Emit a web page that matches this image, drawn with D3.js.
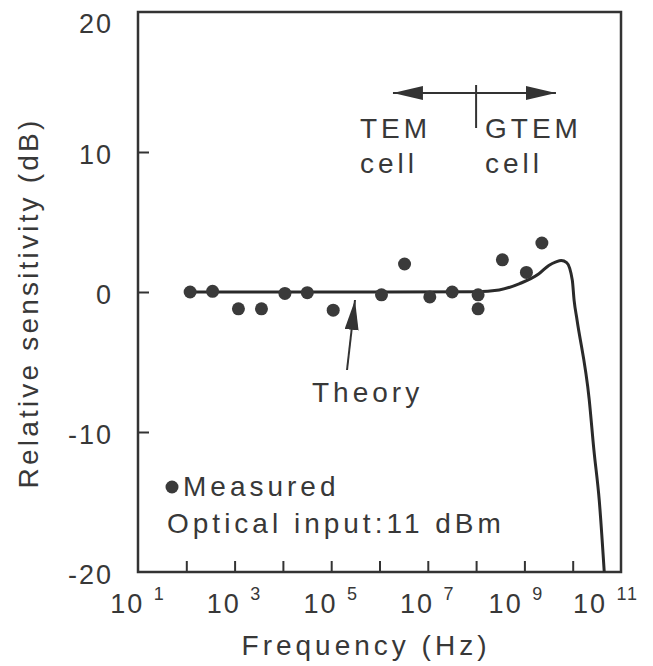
<!DOCTYPE html>
<html>
<head>
<meta charset="utf-8">
<script src="https://cdn.jsdelivr.net/npm/d3@7"></script>
<style>
  html, body { margin: 0; padding: 0; background: #fff; }
  svg text { font-family: "Liberation Sans", Arial, Helvetica, sans-serif; fill: #383838; }
</style>
</head>
<body>
<svg id="chart" width="653" height="666"></svg>
<script>
// measured points (Hz, dB)
const measuredFreq = [1.2e2, 3.5e2, 1.2e3, 3.6e3, 1.1e4, 3.2e4, 1.1e5, 1.1e6, 3.3e6, 1.1e7, 3.2e7, 1.1e8, 1.1e8, 3.5e8, 1.1e9, 2.3e9];
const measuredDb = [0, 0.05, -1.2, -1.2, -0.1, -0.05, -1.3, -0.2, 2.0, -0.35, 0, -0.2, -1.2, 2.3, 1.4, 3.5];

// theory curve (Hz, dB)
const theoryFreq = [1.2e2, 1e4, 1e6, 1e8, 3e8, 8e8, 2e9, 3.2e9, 4.5e9, 5.8e9, 7.5e9, 9.8e9, 1.07e10, 1.23e10, 2.2e10, 2.75e10, 3.55e10, 4.5e10];
const theoryDb = [0, 0, 0, 0.02, 0.15, 0.6, 1.3, 1.9, 2.15, 2.25, 2.1, 0.85, -0.6, -2.0, -7.7, -11.3, -14.9, -20];

// axis ticks
const xTickValues = [1e2, 1e3, 1e4, 1e5, 1e6, 1e7, 1e8, 1e9, 1e10];
const xLabelExps = [1, 3, 5, 7, 9, 11];
const yTickValues = [-10, 0, 10];
const yLabelValues = [20, 10, 0, -10, -20];

// annotation split between TEM and GTEM cells
const cellSplitFreq = 1e8;
const cellArrowFreq = [1.9e6, 4.5e9];

let svg = d3.select("#chart");
let ink = "#333";

let plotLeft = 138, plotRight = 621, plotTop = 12, plotBottom = 572;

let x = d3.scaleLog().domain([1e1, 1e11]).range([plotLeft, plotRight]);
let y = d3.scaleLinear().domain([-20, 20]).range([plotBottom, plotTop]);

// frame
svg.append("rect")
  .attr("x", plotLeft).attr("y", plotTop)
  .attr("width", plotRight - plotLeft).attr("height", plotBottom - plotTop)
  .attr("fill", "none").attr("stroke", ink).attr("stroke-width", 2.5);

// inward ticks
let xAxis = svg.append("g")
  .attr("transform", `translate(0,${plotBottom})`)
  .call(d3.axisBottom(x).tickValues(xTickValues).tickSize(-11).tickFormat(""));
let yAxis = svg.append("g")
  .attr("transform", `translate(${plotLeft},0)`)
  .call(d3.axisLeft(y).tickValues(yTickValues).tickSize(-11).tickFormat(""));
[xAxis, yAxis].forEach(function(g) {
  g.select(".domain").remove();
  g.selectAll("line").attr("stroke", ink).attr("stroke-width", 2);
});

// x tick labels with superscripts (the right-most ones sit a bit left, as in the original)
xLabelExps.forEach(function(e) {
  let shift = e === 11 ? -15 : (e === 9 ? -8 : 0);
  let t = svg.append("text")
    .attr("x", x(Math.pow(10, e)) + shift)
    .attr("y", 613)
    .attr("text-anchor", "middle")
    .style("font-size", "27px")
    .style("letter-spacing", "2px");
  t.append("tspan").text("10 ");
  t.append("tspan").attr("dy", -13).style("font-size", "18px").text(e);
});

// y tick labels
svg.selectAll(".ylab")
  .data(yLabelValues)
  .enter()
  .append("text")
  .attr("x", 113)
  .attr("y", d => Math.max(y(d) + 12, 33))
  .attr("text-anchor", "end")
  .style("font-size", "27px")
  .style("letter-spacing", "2px")
  .text(d => d);

// axis titles
svg.append("text")
  .attr("x", 366)
  .attr("y", 655)
  .attr("text-anchor", "middle")
  .style("font-size", "28px")
  .style("letter-spacing", "4px")
  .text("Frequency (Hz)");

svg.append("text")
  .attr("transform", "translate(38,303) rotate(-90)")
  .attr("text-anchor", "middle")
  .style("font-size", "28px")
  .style("letter-spacing", "3.2px")
  .text("Relative sensitivity (dB)");

// theory line
let line = d3.line()
  .x(d => x(d[0]))
  .y(d => y(d[1]))
  .curve(d3.curveMonotoneX);
svg.append("path")
  .datum(d3.zip(theoryFreq, theoryDb))
  .attr("d", line)
  .attr("fill", "none")
  .attr("stroke", "#2a2a2a")
  .attr("stroke-width", 3);

// measured points
svg.selectAll(".pt")
  .data(d3.zip(measuredFreq, measuredDb))
  .enter()
  .append("circle")
  .attr("cx", d => x(d[0]))
  .attr("cy", d => y(d[1]))
  .attr("r", 6.5)
  .attr("fill", "#3a3a3a");

// arrowhead marker
let defs = svg.append("defs");
defs.append("marker")
  .attr("id", "head")
  .attr("viewBox", "0 0 30 14")
  .attr("refX", 30).attr("refY", 7)
  .attr("markerWidth", 30).attr("markerHeight", 14)
  .attr("markerUnits", "userSpaceOnUse")
  .attr("orient", "auto-start-reverse")
  .append("path")
  .attr("d", "M0,0 L30,7 L0,14 Z")
  .attr("fill", "#333");

// TEM / GTEM arrows
let arrowY = 93;
svg.append("line")
  .attr("x1", x(cellArrowFreq[0])).attr("x2", x(cellArrowFreq[1]))
  .attr("y1", arrowY).attr("y2", arrowY)
  .attr("stroke", "#333").attr("stroke-width", 2)
  .attr("marker-start", "url(#head)")
  .attr("marker-end", "url(#head)");
svg.append("line")
  .attr("x1", x(cellSplitFreq)).attr("x2", x(cellSplitFreq))
  .attr("y1", 85).attr("y2", 128)
  .attr("stroke", "#333").attr("stroke-width", 2);

let labels = [
  { t: "TEM", x: 360, y: 138 },
  { t: "cell", x: 360, y: 173 },
  { t: "GTEM", x: 485, y: 138 },
  { t: "cell", x: 485, y: 173 },
  { t: "Theory", x: 312, y: 402 },
  { t: "Measured", x: 183, y: 496 },
  { t: "Optical input:11 dBm", x: 167, y: 533 }
];
svg.selectAll(".ann")
  .data(labels)
  .enter()
  .append("text")
  .attr("x", d => d.x)
  .attr("y", d => d.y)
  .style("font-size", "28px")
  .style("letter-spacing", "4px")
  .text(d => d.t);

// legend dot
svg.append("circle").attr("cx", 172).attr("cy", 487).attr("r", 6.5).attr("fill", "#3a3a3a");

// theory arrow
svg.append("line")
  .attr("x1", 347).attr("y1", 370)
  .attr("x2", 355).attr("y2", 300)
  .attr("stroke", "#333").attr("stroke-width", 2)
  .attr("marker-end", "url(#head)");
</script>
</body>
</html>
